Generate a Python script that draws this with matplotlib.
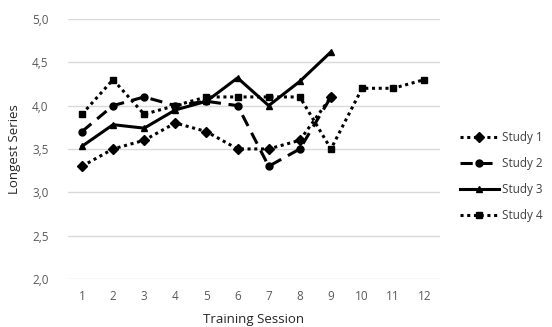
import matplotlib

matplotlib.use("Agg")
import matplotlib.pyplot as plt

plt.rcParams["font.family"] = ["Open Sans", "DejaVu Sans"]

sessions = list(range(1, 13))
study1 = [3.3, 3.5, 3.6, 3.8, 3.7, 3.5, 3.5, 3.6, 4.1]
study2 = [3.7, 4.0, 4.1, 4.0, 4.05, 4.0, 3.3, 3.5, 4.1]
study3 = [3.53, 3.78, 3.74, 3.95, 4.05, 4.32, 4.0, 4.28, 4.62]
study4 = [3.9, 4.3, 3.9, 4.0, 4.1, 4.1, 4.1, 4.1, 3.5, 4.2, 4.2, 4.3]
yticks = [2.0, 2.5, 3.0, 3.5, 4.0, 4.5, 5.0]

fig = plt.figure(figsize=(5.52, 3.27), dpi=100)
ax = fig.add_axes([0.123, 0.147, 0.674, 0.795])

ax.plot(sessions[:9], study1, color="black", linestyle=(0, (1, 1.2)), linewidth=2.2,
        marker="D", markersize=5, label="Study 1")
ax.plot(sessions[:9], study2, color="black", linestyle=(0, (4, 2.5)), linewidth=2.2,
        marker="o", markersize=5, label="Study 2")
ax.plot(sessions[:9], study3, color="black", linestyle="-", linewidth=2.2,
        marker="^", markersize=5, label="Study 3")
ax.plot(sessions, study4, color="black", linestyle=(0, (1, 1.2)), linewidth=2.2,
        marker="s", markersize=5, label="Study 4")

ax.set_xlim(0.55, 12.5)
ax.set_ylim(2.0, 5.0)
ax.set_xticks(sessions)
ax.set_yticks(yticks)
ax.set_yticklabels([f"{v:.1f}".replace(".", ",") for v in yticks])
ax.grid(axis="y", color="#D9D9D9", linewidth=1)
ax.set_axisbelow(True)
for s in ax.spines.values():
    s.set_visible(False)
ax.tick_params(length=0, colors="#595959", labelsize=8.5, pad=8)
ax.tick_params(axis="y", pad=14)

ax.set_xlabel("Training Session", fontsize=9.5, color="#262626", labelpad=7)
ax.set_ylabel("Longest Series", fontsize=9.5, color="#262626", labelpad=8)

ax.legend(loc="center left", bbox_to_anchor=(1.025, 0.395), frameon=False,
          fontsize=8.5, handlelength=3.3, handletextpad=0.3, labelspacing=1.1,
          labelcolor="#404040")

fig.savefig("out.png")
